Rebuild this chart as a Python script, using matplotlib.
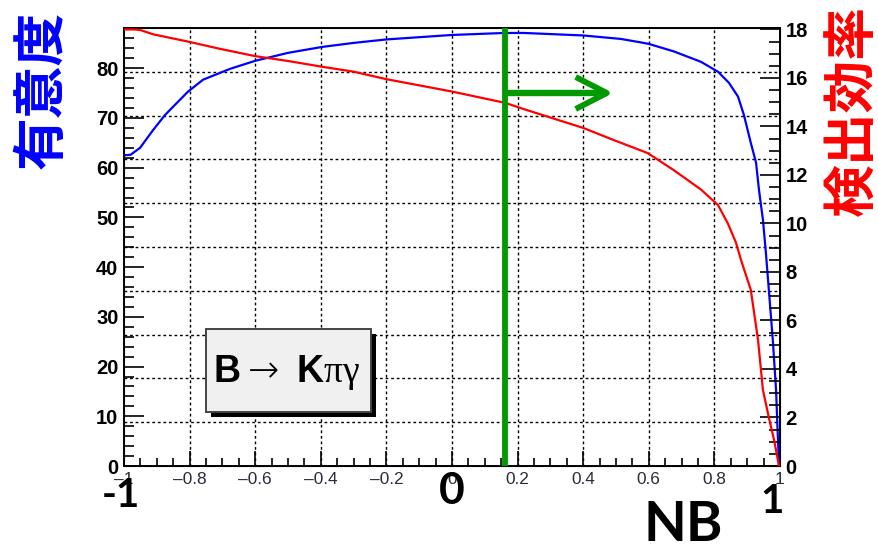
import numpy as np
import matplotlib
matplotlib.use("Agg")
import matplotlib.pyplot as plt
from matplotlib.patches import Rectangle
from matplotlib.ticker import MultipleLocator, FuncFormatter

# Significance vs NB cut (left axis)
sig_nb = [-1.0, -0.98, -0.951, -0.911, -0.875, -0.805, -0.759, -0.676, -0.60,
          -0.50, -0.395, -0.30, -0.20, 0.0, 0.16, 0.22, 0.40, 0.515, 0.576,
          0.60, 0.676, 0.759, 0.811, 0.844, 0.872, 0.890, 0.911, 0.927, 0.936,
          0.948, 0.957, 0.966, 0.978, 0.988, 0.993, 0.997]
sig_val = [62.5, 62.6, 64.0, 67.6, 70.6, 75.3, 77.7, 79.9, 81.5,
           83.1, 84.3, 85.1, 85.8, 86.7, 87.1, 87.1, 86.6, 85.9, 85.2,
           84.9, 83.4, 81.3, 79.3, 77.1, 74.3, 70.6, 65.0, 61.0, 55.5,
           49.5, 42.9, 35.4, 25.4, 15.3, 6.6, 0.0]

# Detection efficiency vs NB cut (right axis)
eff_nb = [-1.0, -0.97, -0.951, -0.911, -0.805, -0.707, -0.60, -0.50, -0.395,
          -0.30, -0.20, 0.0, 0.163, 0.218, 0.40, 0.493, 0.597, 0.676, 0.759,
          0.811, 0.841, 0.866, 0.881, 0.911, 0.933, 0.948, 0.966, 0.982, 0.997]
eff_val = [18.0, 18.0, 17.98, 17.8, 17.5, 17.2, 16.9, 16.7, 16.46,
           16.26, 15.95, 15.44, 14.97, 14.72, 13.94, 13.44, 12.9, 12.2, 11.4,
           10.76, 10.0, 9.2, 8.5, 7.26, 5.2, 3.13, 2.0, 1.07, 0.0]

# Chosen cut and the arrow pointing to the accepted region
cut_nb = 0.163
arrow_tip_nb = 0.472
arrow_head_nb = 0.377
arrow_eff = 15.38
arrow_head_half = 0.66

x_ticks = [-1.0, -0.8, -0.6, -0.4, -0.2, 0.0, 0.2, 0.4, 0.6, 0.8, 1.0]
sig_ticks = [0, 10, 20, 30, 40, 50, 60, 70, 80]
eff_ticks = [0, 2, 4, 6, 8, 10, 12, 14, 16, 18]

plt.rcParams['mathtext.fontset'] = 'custom'
plt.rcParams['mathtext.rm'] = 'DejaVu Sans:light'
plt.rcParams['mathtext.bf'] = 'Liberation Sans:bold'
plt.rcParams['mathtext.sf'] = 'Liberation Serif'

fig = plt.figure(figsize=(8.79, 5.46), dpi=100)
ax = fig.add_axes([124 / 879, 1 - 466 / 546, 656 / 879, 438 / 546])
ax.set_xlim(-1, 1)
ax.set_ylim(0, 88.1)

# dotted grid: vertical at x majors, horizontal at tenths of the frame
for xv in x_ticks[1:-1]:
    ax.axvline(xv, color='black', lw=1.0, ls=(0, (2, 2)), zorder=1)
for k in range(1, 10):
    ax.plot([0, 1], [k / 10, k / 10], transform=ax.transAxes,
            color='black', lw=1.0, ls=(0, (2, 2)), zorder=1)

ax.plot(sig_nb, sig_val, color='#0000ff', lw=1.6, zorder=3)

ax.set_xticks(x_ticks)
ax.xaxis.set_minor_locator(MultipleLocator(0.05))
ax.xaxis.set_major_formatter(FuncFormatter(lambda v, p: ('%g' % round(v, 2)).replace('-', '\u2013')))
ax.set_yticks(sig_ticks)
ax.yaxis.set_minor_locator(MultipleLocator(2))
ax.tick_params(axis='x', which='major', direction='in', length=10.8, width=1.2,
               labelsize=12.4, labelcolor='#2a2a3a', pad=4, top=False)
ax.tick_params(axis='x', which='minor', direction='in', length=5.6, width=1.2, top=False)
ax.tick_params(axis='y', which='major', direction='in', length=14.4, width=1.2,
               labelsize=14.5, pad=4, right=False)
ax.tick_params(axis='y', which='minor', direction='in', length=7.2, width=1.2, right=False)
for lab in ax.get_xticklabels():
    lab.set_fontfamily('Liberation Sans')
for lab in ax.get_yticklabels():
    lab.set_fontfamily('Liberation Sans')
    lab.set_fontweight('bold')
for sp in ax.spines.values():
    sp.set_linewidth(1.4)

ax2 = ax.twinx()
ax2.set_ylim(0, 18.06)
ax2.plot(eff_nb, eff_val, color='#ff0000', lw=1.6, zorder=3)
ax2.set_yticks(eff_ticks)
ax2.yaxis.set_minor_locator(MultipleLocator(0.5))
ax2.tick_params(axis='y', which='major', direction='in', length=14.4, width=1.2,
                labelsize=14.5, pad=4)
ax2.tick_params(axis='y', which='minor', direction='in', length=7.6, width=1.2)
for lab in ax2.get_yticklabels():
    lab.set_fontfamily('Liberation Sans')
    lab.set_fontweight('bold')

green = '#009a00'
ax2.axvline(cut_nb, color=green, lw=4.2, zorder=5)
ax2.plot([cut_nb, arrow_tip_nb], [arrow_eff, arrow_eff], color=green, lw=4.6,
         solid_capstyle='butt', zorder=5)
ax2.plot([arrow_head_nb, arrow_tip_nb, arrow_head_nb],
         [arrow_eff + arrow_head_half, arrow_eff, arrow_eff - arrow_head_half],
         color=green, lw=4.2, solid_joinstyle='round', solid_capstyle='butt', zorder=5)

# decay-mode label box with drop shadow
bx, by, bw, bh = 0.125, 0.1233, 0.2515, 0.1895
ax2.add_patch(Rectangle((bx + 0.0075, by - 0.0115), bw, bh, transform=ax2.transAxes,
                        facecolor='black', edgecolor='none', zorder=6))
ax2.add_patch(Rectangle((bx, by), bw, bh, transform=ax2.transAxes,
                        facecolor='#f0f0f0', edgecolor='#444444', lw=1.4, zorder=7))
ax2.text(bx + 0.011, (466 - 382) / 438, r'$\mathbf{B}\rightarrow\;\mathbf{K}\mathsf{\pi\gamma}$',
         transform=ax2.transAxes, fontsize=27, ha='left', va='baseline', zorder=8)

# axis titles
fig.text(42 / 879, 1 - 90 / 546, '有意度', rotation=90, color='#0000ff', fontsize=38,
         fontweight='bold', family=['Noto Sans CJK JP', 'DejaVu Sans'],
         ha='center', va='center')
fig.text(853 / 879, 1 - 110 / 546, '検出効率', rotation=90, color='#ff0000', fontsize=38,
         fontweight='bold', family=['Noto Sans CJK JP', 'DejaVu Sans'],
         ha='center', va='center')

big = dict(family='Lato', fontweight='bold', color='black', ha='center', va='baseline')
fig.text(121 / 879, 1 - 507 / 546, '-1', fontsize=29, **big)
fig.text(452 / 879, 1 - 504 / 546, '0', fontsize=32, **big)
fig.text(772 / 879, 1 - 513 / 546, '1', fontsize=29, **big)
fig.text(683 / 879, 1 - 541 / 546, 'NB', fontsize=40, **big)

fig.savefig('out.png', dpi=100)
